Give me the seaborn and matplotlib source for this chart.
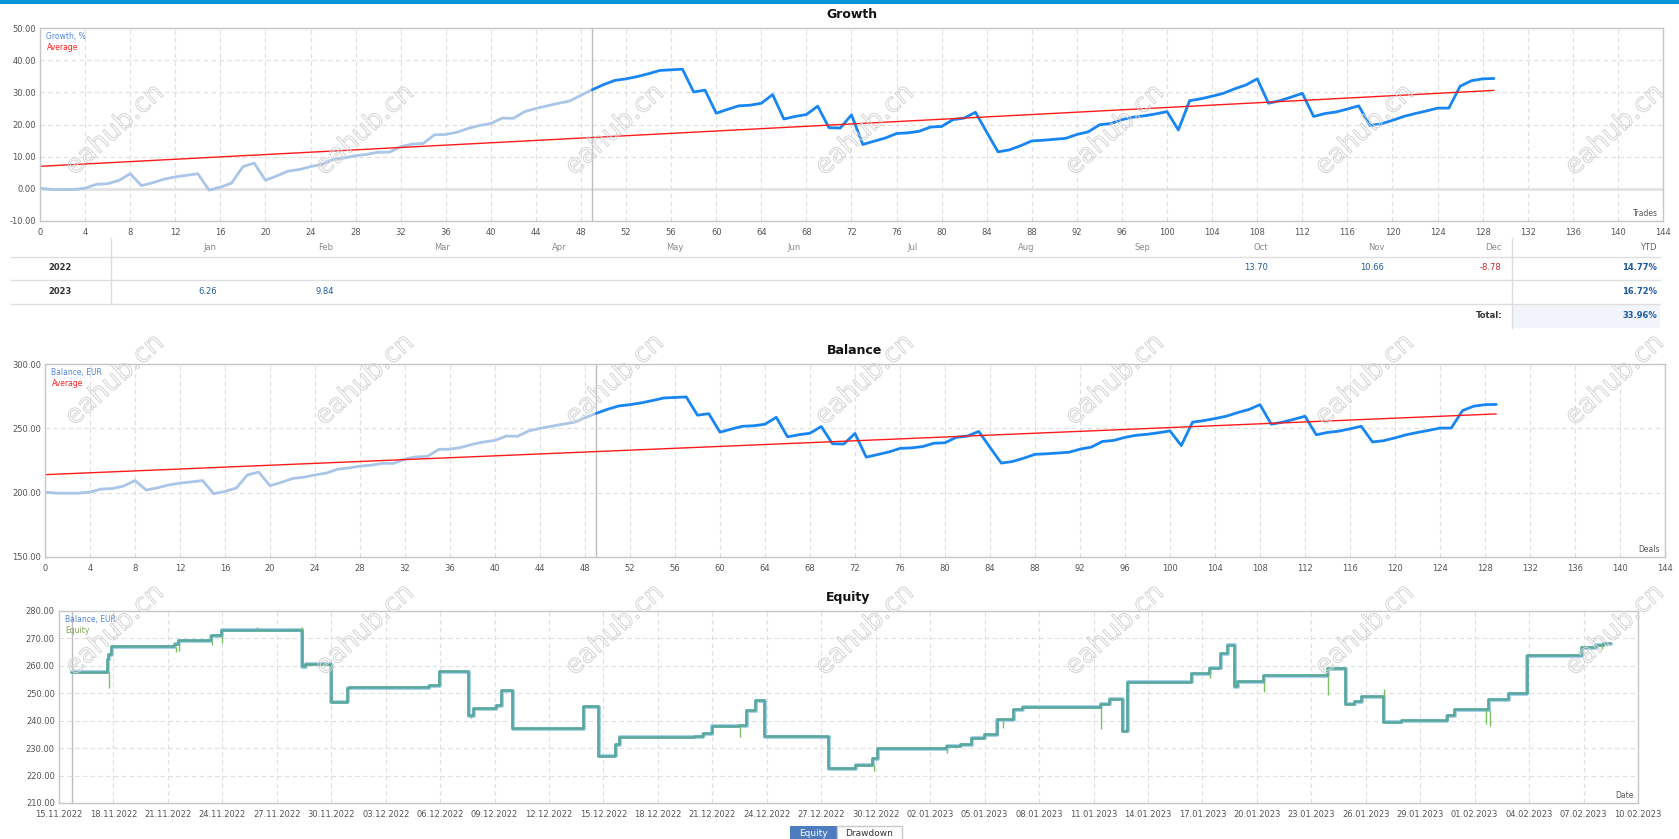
import numpy as np
import pandas as pd
import matplotlib
matplotlib.use("Agg")
import matplotlib.pyplot as plt
import matplotlib.patheffects as pe
import matplotlib.transforms as mtransforms
from matplotlib.patches import Rectangle
from matplotlib.ticker import FormatStrFormatter
import seaborn as sns

sns.set_theme(style="white")
plt.rcParams["font.family"] = ["DejaVu Sans"]

# ---------------- data ----------------
growth = [0.2, -0.2, -0.2, -0.2, 0.2, 1.4, 1.6, 2.6, 4.7, 1.0,
          1.9, 3.0, 3.7, 4.2, 4.7, -0.4, 0.5, 1.8, 6.9, 8.0,
          2.7, 4.0, 5.5, 6.0, 6.9, 7.6, 9.1, 9.6, 10.3, 10.7,
          11.4, 11.4, 13.1, 13.9, 14.1, 16.8, 16.9, 17.6, 18.8, 19.7,
          20.3, 22.0, 21.9, 24.0, 25.0, 25.8, 26.6, 27.3, 29.1, 30.8,
          32.4, 33.7, 34.2, 34.9, 35.8, 36.8, 37.0, 37.2, 30.1, 30.7,
          23.5, 24.7, 25.8, 26.0, 26.6, 29.3, 21.7, 22.5, 23.1, 25.7,
          19.0, 18.9, 23.0, 13.8, 14.8, 15.8, 17.2, 17.4, 17.9, 19.2,
          19.4, 21.5, 22.0, 23.8, 17.6, 11.5, 12.1, 13.4, 14.9, 15.1,
          15.4, 15.7, 16.9, 17.7, 19.9, 20.3, 21.5, 22.3, 22.7, 23.3,
          24.0, 18.3, 27.4, 28.0, 28.8, 29.7, 31.1, 32.3, 34.2, 26.6,
          27.4, 28.5, 29.7, 22.5, 23.4, 23.9, 24.8, 25.8, 19.7, 20.2,
          21.3, 22.5, 23.4, 24.2, 25.1, 25.1, 31.9, 33.6, 34.2, 34.3]
growth_avg = [7.0, 30.6]

balance = [200.4, 199.6, 199.6, 199.6, 200.4, 202.8, 203.2, 205.2, 209.4, 202.0,
           203.8, 206.0, 207.4, 208.4, 209.4, 199.2, 201.0, 203.6, 213.8, 216.0,
           205.4, 208.0, 211.0, 212.0, 213.8, 215.2, 218.2, 219.2, 220.6, 221.4,
           222.8, 222.8, 226.2, 227.8, 228.2, 233.6, 233.8, 235.2, 237.6, 239.4,
           240.6, 244.0, 243.8, 248.0, 250.0, 251.6, 253.2, 254.6, 258.2, 261.6,
           264.8, 267.4, 268.4, 269.8, 271.6, 273.6, 274.0, 274.4, 260.2, 261.4,
           247.0, 249.4, 251.6, 252.0, 253.2, 258.6, 243.4, 245.0, 246.2, 251.4,
           238.0, 237.8, 246.0, 227.6, 229.6, 231.6, 234.4, 234.8, 235.8, 238.4,
           238.8, 243.0, 244.0, 247.6, 235.2, 223.0, 224.2, 226.8, 229.8, 230.2,
           230.8, 231.4, 233.8, 235.4, 239.8, 240.6, 243.0, 244.6, 245.4, 246.6,
           248.0, 236.6, 254.8, 256.0, 257.6, 259.4, 262.2, 264.6, 268.4, 253.2,
           254.8, 257.0, 259.4, 245.0, 246.8, 247.8, 249.6, 251.6, 239.4, 240.4,
           242.6, 245.0, 246.8, 248.4, 250.2, 250.2, 263.8, 267.2, 268.4, 268.6]
balance_avg = [214.0, 261.2]
split_trade = 49

months = ["Jan", "Feb", "Mar", "Apr", "May", "Jun",
          "Jul", "Aug", "Sep", "Oct", "Nov", "Dec"]
years = ["2022", "2023"]
monthly = {"2022": {"Oct": 13.70, "Nov": 10.66, "Dec": -8.78},
           "2023": {"Jan": 6.26, "Feb": 9.84}}
ytd = ["14.77%", "16.72%"]
total = "33.96%"

# equity chart: days after 15.11.2022 and balance level after each step
eq_start = pd.Timestamp("2022-11-15")
eq_days = [0.69, 2.70, 2.76, 2.90, 6.40, 6.60, 8.40, 8.96, 13.40, 13.60,
           15.00, 15.90, 16.00, 20.40, 21.00, 22.60, 22.85, 24.10, 24.40, 25.00,
           28.90, 29.75, 30.70, 30.90, 35.00, 35.50, 36.00, 37.50, 37.90, 38.40,
           38.90, 42.40, 43.90, 44.86, 45.10, 48.90, 49.70, 50.30, 51.00, 51.70,
           52.60, 53.10, 57.40, 57.90, 58.60, 58.90, 62.40, 63.40, 64.00, 64.40,
           64.80, 64.95, 66.40, 69.90, 70.90, 71.40, 71.80, 73.00, 74.00, 76.50,
           76.90, 78.80, 79.90, 80.90, 83.90, 84.70, 85.10, 85.50]
eq_balance = [257.6, 262.2, 263.9, 267.0, 267.8, 269.1, 270.9, 272.9, 259.7, 260.6,
              246.7, 251.8, 252.0, 252.8, 257.8, 241.9, 244.3, 245.5, 250.8, 237.0,
              245.0, 227.0, 231.2, 233.9, 234.2, 235.3, 237.9, 238.2, 243.6, 247.2,
              234.1, 222.5, 223.7, 226.1, 229.8, 230.6, 231.3, 233.6, 234.8, 240.3,
              243.9, 244.9, 246.0, 247.8, 236.1, 254.0, 257.1, 259.1, 264.5, 267.5,
              252.4, 254.2, 256.4, 258.8, 246.0, 247.0, 248.6, 239.4, 239.9, 241.9,
              244.0, 247.7, 249.7, 263.7, 266.6, 267.5, 268.1, 268.1]
# equity excursions (from balance level to the tip of the spike)
spike_days = [2.75, 6.45, 6.62, 8.42, 8.98, 10.9, 13.40, 22.70, 37.50,
              44.88, 48.90, 52.00, 57.42, 63.42, 66.42, 69.92, 73.00, 78.62, 78.82, 85.00]
spike_from = [257.6, 267.0, 267.8, 269.1, 270.9, 272.9, 272.9, 241.9, 237.9,
              223.7, 229.8, 240.3, 244.9, 257.1, 254.2, 256.4, 248.6, 244.0, 244.0, 267.5]
spike_to = [251.8, 265.1, 265.5, 267.6, 268.4, 274.2, 274.2, 241.0, 233.9,
            221.8, 228.2, 237.3, 236.8, 255.4, 250.6, 249.4, 251.6, 238.9, 238.0, 266.1]

# ---------------- figure ----------------
W, H = 1679, 839
fig = plt.figure(figsize=(W / 100, H / 100), dpi=100)


def box(l, t, r, b):
    return [l / W, 1 - b / H, (r - l) / W, (b - t) / H]


def style(ax):
    ax.set_facecolor("white")
    ax.grid(True, color="#dedede", linestyle=(0, (4, 3)), linewidth=0.8)
    for s in ax.spines.values():
        s.set_color("#c6c6c6")
        s.set_linewidth(1)
    ax.tick_params(length=0, labelsize=6, colors="#555555", pad=3)
    ax.yaxis.set_major_formatter(FormatStrFormatter("%.2f"))


def corner_labels(ax, first, first_color, second, second_color, bottom):
    ax.text(0.004, 0.958, first, transform=ax.transAxes, color=first_color,
            fontsize=5.5, va="center", ha="left")
    ax.text(0.004, 0.90, second, transform=ax.transAxes, color=second_color,
            fontsize=5.5, va="center", ha="left")
    ax.text(0.997, 0.04, bottom, transform=ax.transAxes, color="#555555",
            fontsize=5.5, va="center", ha="right")


trades = np.arange(len(growth))
df = pd.DataFrame({"trade": trades, "growth": growth, "balance": balance})
early = df[df["trade"] <= split_trade]
late = df[df["trade"] >= split_trade]

# ---------------- Growth ----------------
ax_g = fig.add_axes(box(40, 28, 1663, 221))
style(ax_g)
ax_g.axhline(0, color="#e3e3e3", lw=2, zorder=1)
ax_g.axvline(split_trade, color="#bdbdbd", lw=1, zorder=1)
sns.lineplot(data=early, x="trade", y="growth", color="#a9c6e8", lw=2.0, ax=ax_g)
sns.lineplot(data=late, x="trade", y="growth", color="#1786f2", lw=2.0, ax=ax_g)
ax_g.plot([trades[0], trades[-1]], growth_avg, color="#ff1a1a", lw=1.0)
ax_g.set_xlim(0, 144)
ax_g.set_ylim(-10, 50)
ax_g.set_xticks(range(0, 145, 4))
ax_g.set_yticks(range(-10, 51, 10))
ax_g.set_xlabel("")
ax_g.set_ylabel("")
ax_g.tick_params(axis="x", pad=5)
corner_labels(ax_g, "Growth, %", "#4f86e0", "Average", "#ff2020", "Trades")

# ---------------- Balance ----------------
ax_b = fig.add_axes(box(45, 364, 1665, 557))
style(ax_b)
ax_b.axvline(split_trade, color="#bdbdbd", lw=1, zorder=1)
sns.lineplot(data=early, x="trade", y="balance", color="#a9c6e8", lw=2.0, ax=ax_b)
sns.lineplot(data=late, x="trade", y="balance", color="#1786f2", lw=2.0, ax=ax_b)
ax_b.plot([trades[0], trades[-1]], balance_avg, color="#ff1a1a", lw=1.0)
ax_b.set_xlim(0, 144)
ax_b.set_ylim(150, 300)
ax_b.set_xticks(range(0, 145, 4))
ax_b.set_yticks([150, 200, 250, 300])
ax_b.set_xlabel("")
ax_b.set_ylabel("")
ax_b.tick_params(axis="x", pad=5)
corner_labels(ax_b, "Balance, EUR", "#4f86e0", "Average", "#ff2020", "Deals")

# ---------------- Equity ----------------
ax_e = fig.add_axes(box(59, 611, 1638, 803))
style(ax_e)
eq_time = eq_start + pd.to_timedelta(eq_days, unit="D")
sp_time = eq_start + pd.to_timedelta(spike_days, unit="D")
eq = pd.DataFrame({"time": eq_time, "balance": eq_balance})
ax_e.axvline(eq_time[0], color="#bdbdbd", lw=1, zorder=1)
sns.lineplot(data=eq, x="time", y="balance", color="#9ccbee", lw=2.7,
             drawstyle="steps-post", ax=ax_e)
ax_e.vlines(sp_time, spike_from, spike_to, color="#7cbf62", lw=1.0, zorder=3)
shift = mtransforms.offset_copy(ax_e.transData, fig=fig, x=-0.5, y=0.5, units="points")
sns.lineplot(data=eq, x="time", y="balance", color="#57a898", lw=1.8,
             drawstyle="steps-post", ax=ax_e, transform=shift)
date_ticks = pd.date_range("2022-11-15", "2023-02-10", freq="3D")
ax_e.set_xlim(date_ticks[0], date_ticks[-1])
ax_e.set_ylim(210, 280)
ax_e.set_xticks(date_ticks)
ax_e.set_xticklabels([d.strftime("%d.%m.%Y") for d in date_ticks])
ax_e.set_yticks(range(210, 281, 10))
ax_e.set_xlabel("")
ax_e.set_ylabel("")
ax_e.tick_params(axis="x", pad=5)
corner_labels(ax_e, "Balance, EUR", "#4f86e0", "Equity", "#7aa84a", "Date")

# ---------------- overlay: titles, table, buttons, watermark ----------------
ov = fig.add_axes([0, 0, 1, 1], zorder=10)
ov.set_xlim(0, W)
ov.set_ylim(H, 0)
ov.axis("off")
ov.patch.set_alpha(0)

ov.add_patch(Rectangle((0, 0), W, 4, color="#0a95d8", lw=0))
for ax, title in [(ax_g, "Growth"), (ax_b, "Balance"), (ax_e, "Equity")]:
    pos = ax.get_position()
    ov.text((pos.x0 + pos.x1) / 2 * W, (1 - pos.y1) * H - 14, title,
            ha="center", va="center", fontsize=9, fontweight="bold", color="#111111")

# monthly returns table
line_c = "#dedede"
col0, col_end, tab_r = 111, 1512, 1660
col_w = (col_end - col0) / len(months)
row_y = [247, 268, 292, 316]
for y in [257, 280, 304]:
    ov.plot([11, tab_r], [y, y], color=line_c, lw=1)
ov.plot([col0, col0], [238, 304], color=line_c, lw=1)
ov.plot([col_end, col_end], [238, 328], color=line_c, lw=1)
ov.add_patch(Rectangle((col_end, 305), tab_r - col_end, 23, color="#f1f4fb", lw=0))
for i, m in enumerate(months):
    ov.text(col0 + (i + 1) * col_w - 11, row_y[0], m, ha="right", va="center",
            fontsize=6, color="#8a8a8a")
ov.text(tab_r - 3, row_y[0], "YTD", ha="right", va="center", fontsize=6, color="#666666")
for r, yr in enumerate(years):
    y = row_y[r + 1]
    ov.text(60, y, yr, ha="center", va="center", fontsize=6, fontweight="bold", color="#333333")
    for m, v in monthly[yr].items():
        i = months.index(m)
        ov.text(col0 + (i + 1) * col_w - 11, y, f"{v:.2f}", ha="right", va="center",
                fontsize=6, color="#c0282d" if v < 0 else "#1e5aa0")
    ov.text(tab_r - 3, y, ytd[r], ha="right", va="center", fontsize=6,
            fontweight="bold", color="#1e5aa0")
ov.text(col_end - 10, row_y[3], "Total:", ha="right", va="center", fontsize=6,
        fontweight="bold", color="#333333")
ov.text(tab_r - 3, row_y[3], total, ha="right", va="center", fontsize=6,
        fontweight="bold", color="#1e5aa0")

# buttons under the equity chart
ov.add_patch(Rectangle((790, 826), 47, 14, color="#4d7cc0", lw=0))
ov.add_patch(Rectangle((837, 826), 65, 14, facecolor="white", edgecolor="#c8c8c8", lw=1))
ov.text(813.5, 833, "Equity", ha="center", va="center", fontsize=6.5, color="white")
ov.text(869.5, 833, "Drawdown", ha="center", va="center", fontsize=6.5, color="#333333")

# watermark
for wy in [130, 380, 630]:
    for wx in range(115, 1680, 250):
        ov.text(wx, wy, "eahub.cn", ha="center", va="center", rotation=42,
                fontsize=19, color=(1, 1, 1, 0),
                path_effects=[pe.Stroke(linewidth=0.7, foreground="#d4d4d4")])

fig.savefig("out.png", dpi=100)
